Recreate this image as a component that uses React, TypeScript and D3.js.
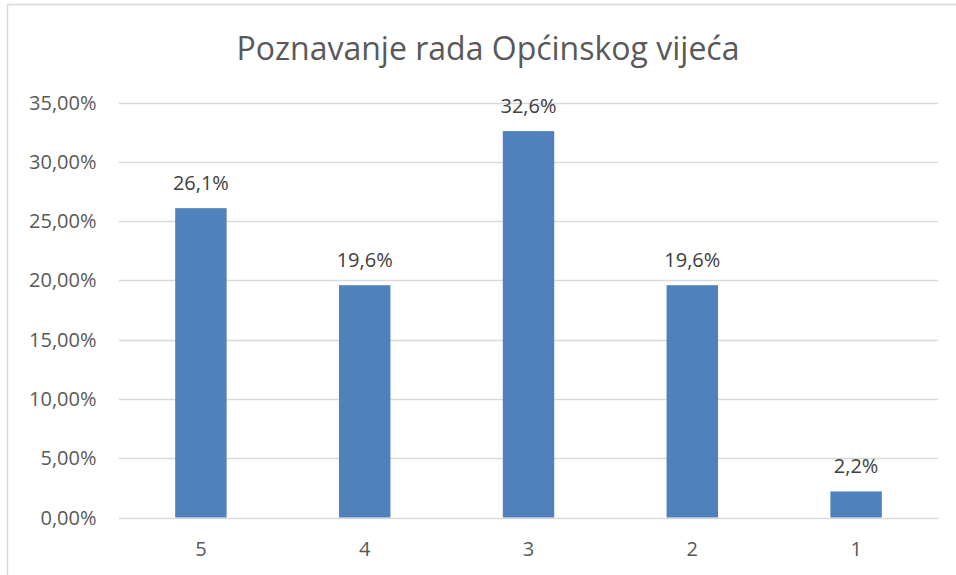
import React from "react";
import * as d3 from "d3";

const title = "Poznavanje rada Općinskog vijeća";
const categories = ["5", "4", "3", "2", "1"];
const values = [26.1, 19.6, 32.6, 19.6, 2.2];
const yTicks = [0, 5, 10, 15, 20, 25, 30, 35];

const W = 956;
const H = 575;
const FONT = "'Open Sans', sans-serif";
const TEXT = "#595959";

export default function App() {
  const x = d3.scaleBand<string>().domain(categories).range([119, 938]).paddingInner(0.686).paddingOuter(0.343);
  const y = d3.scaleLinear().domain([0, 35]).range([517.5, 102.7]);
  const fmtTick = (v: number) => v.toFixed(2).replace(".", ",") + "%";
  const fmtVal = (v: number) => v.toFixed(1).replace(".", ",") + "%";

  return (
    <svg width={W} height={H} style={{ position: "absolute", left: 0, top: 0, background: "#fff" }} fontFamily={FONT}>
      <rect x={0} y={0} width={W} height={H} fill="#fff" />
      <line x1={7.5} x2={W} y1={4.5} y2={4.5} stroke="#d9d9d9" strokeWidth={1.5} />
      <line x1={7.5} x2={7.5} y1={4.5} y2={H} stroke="#d9d9d9" strokeWidth={1.5} />
      <text x={488} y={59.5} textAnchor="middle" fontSize={32} fill={TEXT}>{title}</text>
      {yTicks.map((t) => (
        <g key={t}>
          <line x1={119} x2={938} y1={Math.round(y(t)) + 0.5} y2={Math.round(y(t)) + 0.5} stroke="#d9d9d9" strokeWidth={1.3} />
          <text x={96.5} y={y(t) + 7} textAnchor="end" fontSize={20} fill={TEXT}>{fmtTick(t)}</text>
        </g>
      ))}
      {categories.map((c, i) => (
        <g key={c}>
          <rect x={x(c)} y={y(values[i])} width={x.bandwidth()} height={y(0) - y(values[i])} fill="#4f81bd" />
          <text x={(x(c) as number) + x.bandwidth() / 2} y={y(values[i]) - 18} textAnchor="middle" fontSize={20} fill="#404040">{fmtVal(values[i])}</text>
          <text x={(x(c) as number) + x.bandwidth() / 2} y={556} textAnchor="middle" fontSize={20} fill={TEXT}>{c}</text>
        </g>
      ))}
    </svg>
  );
}
